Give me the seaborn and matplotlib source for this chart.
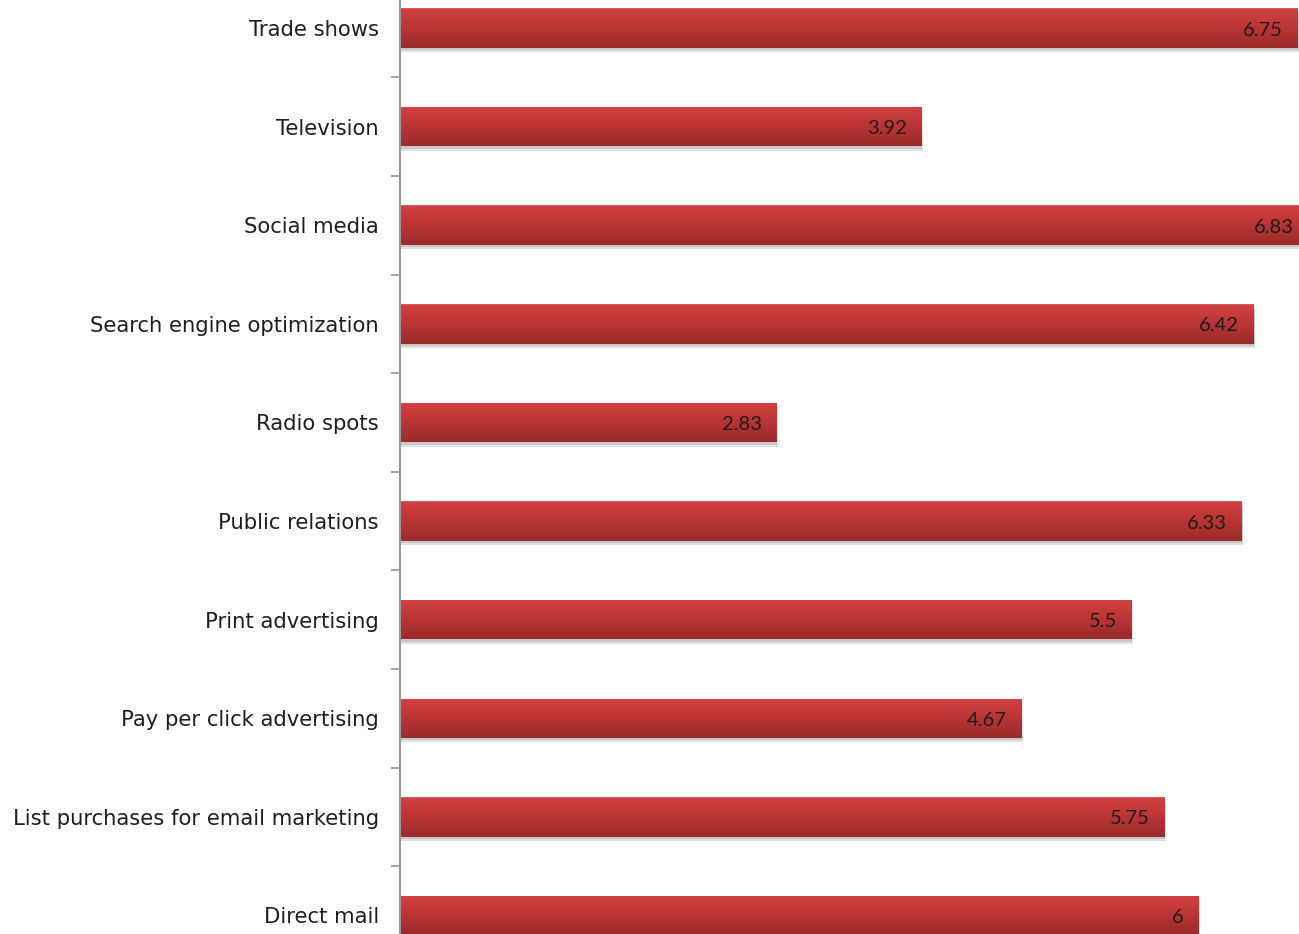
import numpy as np
import pandas as pd
import matplotlib
matplotlib.use("Agg")
import matplotlib.pyplot as plt
import matplotlib.patheffects as pe
from matplotlib.colors import to_rgb
from matplotlib.ticker import FixedLocator
import seaborn as sns

# Average rating by marketing channel
categories = [
    "Trade shows",
    "Television",
    "Social media",
    "Search engine optimization",
    "Radio spots",
    "Public relations",
    "Print advertising",
    "Pay per click advertising",
    "List purchases for email marketing",
    "Direct mail",
]
ratings = [6.75, 3.92, 6.83, 6.42, 2.83, 6.33, 5.5, 4.67, 5.75, 6]

df = pd.DataFrame({"channel": categories, "rating": ratings})

sns.set_style("white")
plt.rcParams["font.family"] = ["DejaVu Sans"]

fig = plt.figure(figsize=(12.99, 9.34), dpi=100)
ax = fig.add_axes([0.3078, -0.0329, 0.6922, 1.0557])

sns.barplot(data=df, x="rating", y="channel", orient="h", width=0.4,
            color="#c03535", saturation=1, ax=ax, zorder=2)

# vertical red gradient, lighter along the top edge
top_c = np.array(to_rgb("#d34242"))
mid_c = np.array(to_rgb("#c23838"))
bot_c = np.array(to_rgb("#9b2a2a"))
t = np.linspace(0, 1, 64)[:, None]
grad = np.where(t < 0.35, top_c + (mid_c - top_c) * (t / 0.35),
                mid_c + (bot_c - mid_c) * ((t - 0.35) / 0.65))
grad[0] = np.array(to_rgb("#dc6a6a"))
grad = grad[:, None, :]

for patch in ax.patches:
    x0, y0 = patch.get_x(), patch.get_y()
    w, h = patch.get_width(), patch.get_height()
    patch.set_edgecolor("none")
    patch.set_path_effects([
        pe.SimplePatchShadow(offset=(1.2, -3.2), shadow_rgbFace="#7a7a7a", alpha=0.22),
        pe.SimplePatchShadow(offset=(0.6, -1.8), shadow_rgbFace="#7a7a7a", alpha=0.25),
        pe.Normal(),
    ])
    im = ax.imshow(grad, extent=(x0, x0 + w, y0 + h, y0), origin="upper",
                   aspect="auto", interpolation="bilinear", zorder=3)
    im.set_clip_path(patch)

ax.set_xlim(0, 6.76)
ax.set_ylim(len(categories) - 0.5, -0.5)

# value labels just inside the end of each bar
for i, v in enumerate(ratings):
    ax.annotate(f"{v:g}", xy=(v, i), xytext=(-10.5, -1.5), textcoords="offset points",
                ha="right", va="center", fontsize=14.5, color="#1c1c1c",
                family=["Lato", "DejaVu Sans"], annotation_clip=False, zorder=5)

ax.set_xlabel("")
ax.set_ylabel("")
ax.set_xticks([])
ax.tick_params(axis="y", which="major", left=False, length=0, pad=15, labelsize=15.2,
               labelcolor="#1e1e1e")
ax.yaxis.set_minor_locator(FixedLocator(np.arange(0.5, len(categories) - 1, 1.0)))
ax.tick_params(axis="y", which="minor", left=True, length=6.5, width=1.1,
               color="#8c8c8c", direction="out")

for side in ["top", "right", "bottom"]:
    ax.spines[side].set_visible(False)
ax.spines["left"].set_color("#9a9a9a")
ax.spines["left"].set_linewidth(1.5)
ax.spines["left"].set_zorder(6)

fig.savefig("out.png", dpi=100)
